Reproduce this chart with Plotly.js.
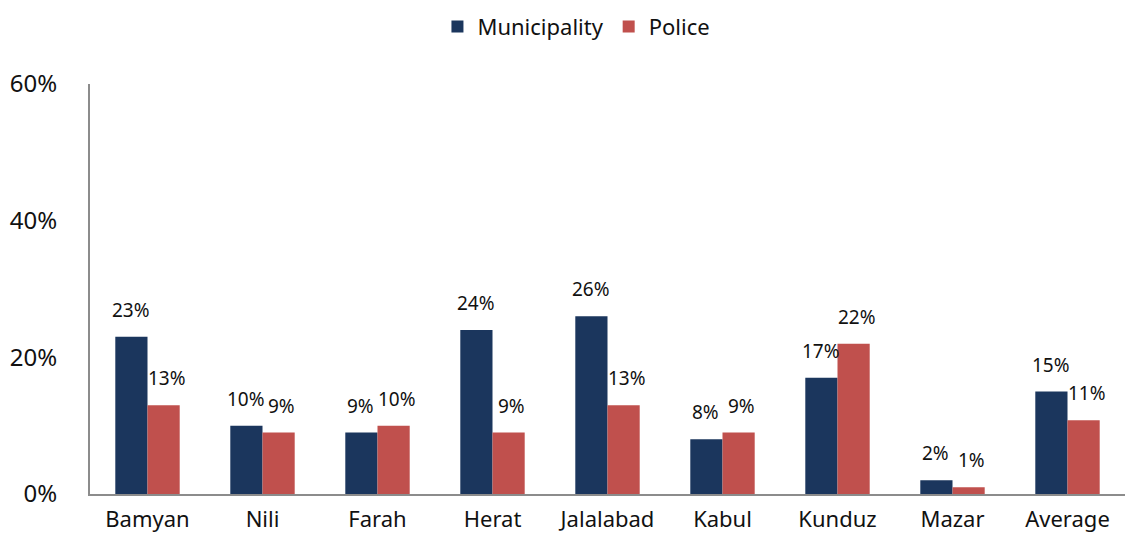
<!DOCTYPE html>
<html><head><meta charset="utf-8">
<script src="https://cdn.plot.ly/plotly-3.0.1.min.js"></script>
<style>body{margin:0;background:#fff}#c{width:1125px;height:538px}</style>
</head><body><div id="c"></div>
<script>
const categories = ["Bamyan","Nili","Farah","Herat","Jalalabad","Kabul","Kunduz","Mazar","Average"];
const municipality = [23,10,9,24,26,8,17,2,15];
const police = [13,9,10,9,13,9,22,1,10.8];
const municipalityLabels = ["23%","10%","9%","24%","26%","8%","17%","2%","15%"];
const policeLabels = ["13%","9%","10%","9%","13%","9%","22%","1%","11%"];
const yTicks = [0,20,40,60];
const yTickLabels = ["0%","20%","40%","60%"];

const font = "Noto Sans, Open Sans, sans-serif";
const ann = [];
categories.forEach((c,i)=>{
  ann.push({x:c,y:municipality[i],xref:'x',yref:'y',text:municipalityLabels[i],showarrow:false,
    xshift:-17,yshift:12,yanchor:'bottom',font:{family:font,size:19,color:'#111'}});
  ann.push({x:c,y:police[i],xref:'x',yref:'y',text:policeLabels[i],showarrow:false,
    xshift:19,yshift:12,yanchor:'bottom',font:{family:font,size:19,color:'#111'}});
});

const data = [
  {type:'bar',name:'Municipality',x:categories,y:municipality,marker:{color:'#1B365D'},hoverinfo:'none'},
  {type:'bar',name:'Police',x:categories,y:police,marker:{color:'#C0504D'},hoverinfo:'none'}
];
const layout = {
  width:1125,height:538,
  margin:{l:90,r:0,t:84,b:44},
  paper_bgcolor:'#fff',plot_bgcolor:'#fff',
  barmode:'group',bargap:0.44,bargroupgap:0,
  showlegend:true,
  legend:{orientation:'h',x:0.47,xref:'paper',xanchor:'center',y:1.14,yanchor:'middle',
    font:{family:font,size:22,color:'#111'},itemwidth:30,traceorder:'normal'},
  xaxis:{type:'category',showline:true,linecolor:'#8c8c8c',linewidth:2,ticks:'',
    tickfont:{family:font,size:22,color:'#111'},ticklabelstandoff:5,showgrid:false,zeroline:false},
  yaxis:{range:[0,60],tickvals:yTicks,ticktext:yTickLabels,showline:true,linecolor:'#8c8c8c',linewidth:2,
    ticks:'',showgrid:false,zeroline:false,tickfont:{family:font,size:24,color:'#111'},ticklabelstandoff:26},
  annotations:ann
};
Plotly.newPlot('c',data,layout,{displayModeBar:false,staticPlot:true});
</script></body></html>
